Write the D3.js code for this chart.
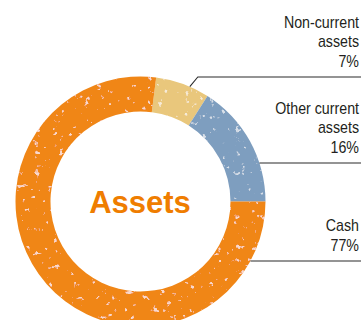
<!DOCTYPE html>
<html>
<head>
<meta charset="utf-8">
<script src="https://cdn.jsdelivr.net/npm/d3@7"></script>
<style>
  html, body { margin: 0; padding: 0; background: #fff; }
  svg { display: block; }
  .lbl { font-family: "Liberation Sans", Arial, sans-serif; font-size: 16px; fill: #231f20; }
</style>
</head>
<body>
<svg id="chart" width="361" height="320"></svg>
<script>
// Asset composition (percent of total)
const categories = ["Non-current assets", "Other current assets", "Cash"];
const labelLines = [["Non-current", "assets"], ["Other current", "assets"], ["Cash"]];
const values = [7, 16, 77];
const colors = ["#E9C77B", "#7E9EBF", "#F08618"];
const centerTitle = "Assets";

const width = 361, height = 320;
const cx = 140.5, cy = 201.5;
const outerR = 125, innerR = 90;

const svg = d3.select("#chart");

// Worn-print speckle texture for the ring
const defs = svg.append("defs");
const f = defs.append("filter").attr("id", "speckle")
  .attr("x", "-5%").attr("y", "-5%").attr("width", "110%").attr("height", "110%");
f.append("feTurbulence").attr("type", "fractalNoise").attr("baseFrequency", 0.16)
  .attr("numOctaves", 3).attr("seed", 11).attr("result", "noise");
f.append("feColorMatrix").attr("in", "noise").attr("type", "matrix")
  .attr("values", "0 0 0 0 1  0 0 0 0 1  0 0 0 0 1  12 0 0 0 -8.3")
  .attr("result", "spots");
f.append("feComposite").attr("in", "spots").attr("in2", "SourceGraphic")
  .attr("operator", "in").attr("result", "clipped");
f.append("feComponentTransfer").attr("in", "clipped").attr("result", "soft")
  .append("feFuncA").attr("type", "linear").attr("slope", 0.6);
const merge = f.append("feMerge");
merge.append("feMergeNode").attr("in", "SourceGraphic");
merge.append("feMergeNode").attr("in", "soft");

const g = svg.append("g").attr("transform", `translate(${cx},${cy})`);

// Ring starts a little past twelve o'clock so the cash slice ends at three o'clock
const pie = d3.pie().sort(null).value(d => d)
  .startAngle(Math.PI / 2 - (values[0] + values[1]) / 100 * 2 * Math.PI);
pie.endAngle(pie.startAngle()() + 2 * Math.PI);
const arcs = pie(values);
const arc = d3.arc().innerRadius(innerR).outerRadius(outerR);

g.append("g").attr("filter", "url(#speckle)")
  .selectAll("path.slice")
  .data(arcs)
  .join("path")
  .attr("class", "slice")
  .attr("d", arc)
  .attr("fill", (d, i) => colors[i]);

// Centre title
g.append("text")
  .attr("x", -0.5).attr("y", 11)
  .attr("text-anchor", "middle")
  .style("font-family", "'Liberation Sans', Arial, sans-serif")
  .style("font-weight", "bold")
  .style("font-size", "31px")
  .style("fill", "#EF7D00")
  .text(centerTitle);

// Labels at the right edge, each with a leader line to the ring
const lineYs = [77, 163, 261];       // leader line heights
const lineGap = 19.5;
const rightX = width - 2;

categories.forEach((c, i) => {
  const ly = lineYs[i];
  const lines = labelLines[i].concat([values[i] + "%"]);
  const firstBase = ly - 10 - (lines.length - 1) * lineGap;
  // condensed setting: squeeze the text horizontally
  const t = svg.append("text").attr("class", "lbl").attr("text-anchor", "end")
    .attr("transform", `translate(${rightX},0) scale(0.89,1)`);
  lines.forEach((s, k) => {
    t.append("tspan").attr("x", 0).attr("y", firstBase + k * lineGap).text(s);
  });

  const dy = ly - cy;
  let pts;
  if (Math.abs(dy) < outerR - 10) {
    const xEdge = cx + Math.sqrt(outerR * outerR - dy * dy);
    pts = [[xEdge, ly], [width, ly]];
  } else {
    // line runs above the ring: drop a short diagonal onto the slice
    const a = arcs[i];
    const mid = (a.startAngle + a.endAngle) / 2 + 0.06;
    const px = cx + outerR * Math.sin(mid), py = cy - outerR * Math.cos(mid);
    pts = [[px, py], [px + 8, ly], [width, ly]];
  }
  svg.append("path")
    .attr("d", d3.line()(pts))
    .attr("fill", "none")
    .attr("stroke", "#2b2b2b")
    .attr("stroke-width", 1.1);
});
</script>
</body>
</html>
